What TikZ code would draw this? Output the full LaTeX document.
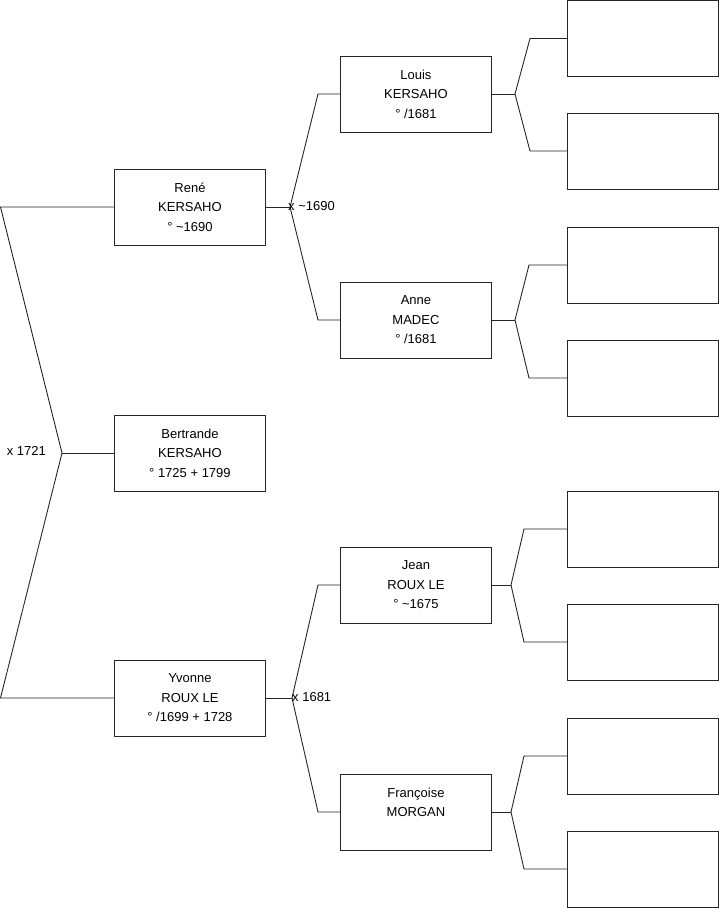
\documentclass[tikz,border=0pt]{standalone}
\usepackage{fontspec}
\setmainfont{Liberation Sans}
\begin{document}
\begin{tikzpicture}[x=1pt,y=-1pt,
  person/.style={draw=black!85, line width=0.9pt, minimum width=151pt, minimum height=76pt,
    inner sep=0pt, align=center, font=\fontsize{13}{19.5}\selectfont, anchor=west},
  empty/.style={draw=black!85, line width=0.9pt, minimum width=151pt, minimum height=76pt,
    inner sep=0pt, anchor=west},
  link/.style={draw=black!85, line width=0.9pt},
  lbl/.style={font=\fontsize{13}{15}\selectfont, inner sep=0pt}]
\useasboundingbox (0,0) rectangle (719,908);

% generation 1
\node[person] (bertrande) at (114,453) {Bertrande\\KERSAHO\\° 1725 + 1799};
% generation 2
\node[person] (rene) at (114,207) {René\\KERSAHO\\° \textasciitilde1690};
\node[person] (yvonne) at (114,698) {Yvonne\\ROUX LE\\° /1699 + 1728};
% generation 3
\node[person] (louis) at (340,94) {Louis\\KERSAHO\\° /1681};
\node[person] (anne) at (340,320) {Anne\\MADEC\\° /1681};
\node[person] (jean) at (340,585) {Jean\\ROUX LE\\° \textasciitilde1675};
\node[person] (francoise) at (340,812) {Françoise\\MORGAN\\\mbox{}};
% generation 4
\node[empty] (r1) at (567,38.5) {};
\node[empty] (r2) at (567,151) {};
\node[empty] (r3) at (567,265) {};
\node[empty] (r4) at (567,378) {};
\node[empty] (r5) at (567,529) {};
\node[empty] (r6) at (567,642) {};
\node[empty] (r7) at (567,756) {};
\node[empty] (r8) at (567,869) {};

% vertices
\coordinate (v0) at (62,453);
\coordinate (v0a) at (0.5,207);
\coordinate (v0b) at (0.5,698);
\coordinate (v1) at (290,207);
\coordinate (v1a) at (318,94);
\coordinate (v1b) at (318,320);
\coordinate (v2) at (292,698);
\coordinate (v2a) at (318,585);
\coordinate (v2b) at (318,812);
\coordinate (v3) at (515,94);
\coordinate (v3a) at (530,38.5);
\coordinate (v3b) at (530,151);
\coordinate (v4) at (515,320);
\coordinate (v4a) at (529,265);
\coordinate (v4b) at (529,378);
\coordinate (v5) at (511,585);
\coordinate (v5a) at (524,529);
\coordinate (v5b) at (524,642);
\coordinate (v6) at (511,812);
\coordinate (v6a) at (524,756);
\coordinate (v6b) at (524,869);

% connectors
\draw[link] (rene.west) -- (v0a) -- (v0) -- (v0b) -- (yvonne.west);
\draw[link] (v0) -- (bertrande.west);
\draw[link] (rene.east) -- (v1);
\draw[link] (louis.west) -- (v1a) -- (v1) -- (v1b) -- (anne.west);
\draw[link] (yvonne.east) -- (v2);
\draw[link] (jean.west) -- (v2a) -- (v2) -- (v2b) -- (francoise.west);
\draw[link] (louis.east) -- (v3);
\draw[link] (r1.west) -- (v3a) -- (v3) -- (v3b) -- (r2.west);
\draw[link] (anne.east) -- (v4);
\draw[link] (r3.west) -- (v4a) -- (v4) -- (v4b) -- (r4.west);
\draw[link] (jean.east) -- (v5);
\draw[link] (r5.west) -- (v5a) -- (v5) -- (v5b) -- (r6.west);
\draw[link] (francoise.east) -- (v6);
\draw[link] (r7.west) -- (v6a) -- (v6) -- (v6b) -- (r8.west);

% marriage labels
\node[lbl, anchor=east] (m0) at (46,451) {x 1721};
\node[lbl, anchor=west] (m1) at (288,206) {x \textasciitilde1690};
\node[lbl, anchor=west] (m2) at (292,697) {x 1681};
\end{tikzpicture}
\end{document}
